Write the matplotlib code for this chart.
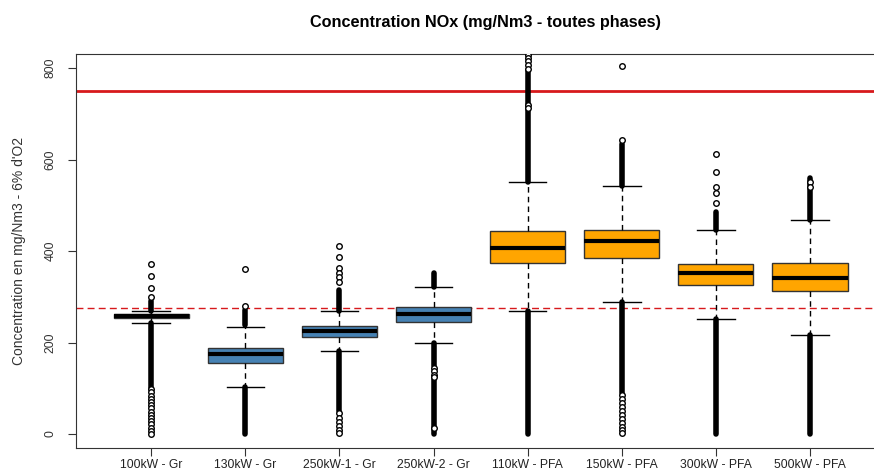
import matplotlib
matplotlib.use("Agg")
import matplotlib.pyplot as plt

plt.rcParams['font.family'] = ['Liberation Sans', 'DejaVu Sans']

labels = ["100kW - Gr", "130kW - Gr", "250kW-1 - Gr", "250kW-2 - Gr",
          "110kW - PFA", "150kW - PFA", "300kW - PFA", "500kW - PFA"]
colors = ["#4682B4"] * 4 + ["#FFA500"] * 4

q1 = [253, 155, 213, 246, 375, 385, 325, 313]
med = [258, 174, 226, 262, 406, 421, 352, 342]
q3 = [263, 187, 236, 278, 444, 446, 372, 374]
whislo = [243, 103, 181, 200, 269, 288, 251, 217]
whishi = [269, 235, 270, 322, 551, 543, 446, 468]

# isolated outliers (open circles)
fliers = [
    [372, 345, 320, 299, 98, 91, 84, 77, 70, 63, 56, 49, 42, 35, 28, 21, 14, 7, 1],
    [360, 280],
    [411, 387, 362, 353, 343, 332, 45, 36, 27, 18, 9, 2],
    [145, 137, 130, 124, 14],
    [828, 822, 815, 806, 798, 720, 712],
    [804, 643, 86, 77, 68, 59, 50, 41, 32, 23, 15, 8, 2],
    [613, 573, 541, 526, 506],
    [552, 540],
]
# outlier runs so dense they read as a solid bar (lo, hi)
dense = [
    [(269, 290), (100, 243)],
    [(238, 271), (0, 103)],
    [(270, 315), (50, 181)],
    [(322, 353), (148, 200), (0, 120)],
    [(551, 795), (0, 269)],
    [(543, 634), (90, 288)],
    [(446, 485), (0, 251)],
    [(468, 559), (0, 217)],
]
limit_hi = 750
limit_lo = 275

fig = plt.figure(figsize=(8.74, 4.70), dpi=100)
ax = fig.add_axes([0.087, 0.0468, 0.928, 0.838])

stats = []
for i in range(len(labels)):
    stats.append(dict(q1=q1[i], med=med[i], q3=q3[i], whislo=whislo[i],
                      whishi=whishi[i], fliers=[]))
pos = list(range(1, len(labels) + 1))

ax.axhline(limit_hi, color="#d7191c", lw=2, zorder=1)
ax.axhline(limit_lo, color="#d7191c", lw=1, ls=(0, (5, 3)), zorder=1)

for i, p in enumerate(pos):
    for lo, hi in dense[i]:
        ax.plot([p, p], [lo, hi], color="black", lw=4, solid_capstyle="round", zorder=2)
    ax.plot([p] * len(fliers[i]), fliers[i], "o", mfc="white", mec="black",
            ms=4, mew=1, zorder=3, ls="none")

bp = ax.bxp(stats, positions=pos, widths=0.8, patch_artist=True, showfliers=False,
            boxprops=dict(edgecolor="#333333", lw=1),
            medianprops=dict(color="black", lw=3, solid_capstyle="butt"),
            whiskerprops=dict(color="black", lw=1, ls=(0, (4, 3))),
            capprops=dict(color="black", lw=1), capwidths=0.4, zorder=4)
for patch, c in zip(bp["boxes"], colors):
    patch.set_facecolor(c)

ax.set_xlim(0.2, 8.82)
ax.set_ylim(-30.6, 830.6)
ax.set_xticks(pos)
ax.set_xticklabels(labels, fontsize=8.7, color="#222222")
ax.set_yticks([0, 200, 400, 600, 800])
ax.set_yticklabels(["0", "200", "400", "600", "800"], fontsize=8.7, rotation=90,
                   va="center", color="#333333")
ax.tick_params(direction="out", length=6, color="#333333")
ax.tick_params(axis="x", pad=2)
ax.tick_params(axis="y", pad=8)
ax.spines["right"].set_visible(False)
for s in ["top", "left", "bottom"]:
    ax.spines[s].set_color("#333333")
fig.text(19 / 874, 1 - 251 / 470, "Concentration en mg/Nm3 - 6% d'O2", rotation=90,
         ha="center", va="center", fontsize=10, color="#333333")
fig.text(485 / 874, 0.953, "Concentration NOx (mg/Nm3 - toutes phases)", ha="center",
         va="center", fontsize=11.7, fontweight="bold")

fig.savefig("out.png", dpi=100)
